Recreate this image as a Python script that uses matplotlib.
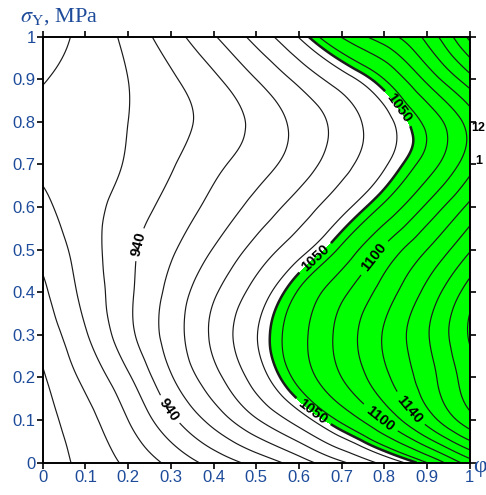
import numpy as np
import matplotlib
matplotlib.use("Agg")
import matplotlib.pyplot as plt
import matplotlib.tri as mtri

# grid
phi = [0.0, 0.1, 0.2, 0.3, 0.4, 0.5, 0.6, 0.7, 0.8, 0.9, 1.0]
sigma_y = [0.0, 0.1, 0.2, 0.3, 0.4, 0.5, 0.6, 0.7, 0.8, 0.9, 1.0]

# response values (rows: sigma_y, columns: phi)
stress = [
    [848, 866, 884, 905, 927, 947, 970, 997, 1026, 1060, 1110],
    [853, 873, 900, 935, 967, 998, 1029, 1064, 1102, 1148, 1192],
    [858, 885, 917, 958, 993, 1029, 1066, 1100, 1135, 1171, 1210],
    [867, 898, 934, 969, 1004, 1039, 1073, 1107, 1142, 1178, 1222],
    [876, 906, 936, 966, 997, 1028, 1062, 1095, 1129, 1166, 1210],
    [886, 910, 935, 957, 981, 1007, 1033, 1064, 1104, 1140, 1178],
    [896, 912, 929, 947, 966, 987, 1009, 1034, 1064, 1104, 1145],
    [903, 910, 922, 938, 955, 971, 990, 1013, 1038, 1069, 1112],
    [905, 910, 920, 933, 947, 965, 986, 1008, 1034, 1065, 1108],
    [899, 908, 920, 937, 956, 980, 1005, 1031, 1060, 1105, 1152],
    [893, 905, 926, 951, 978, 1007, 1041, 1081, 1111, 1146, 1205],
]

levels = [860, 880, 900, 920, 940, 960, 980, 1000, 1020, 1040, 1050,
          1060, 1080, 1100, 1120, 1140, 1160, 1180, 1200, 1220]
threshold = 1050
label_levels = [940, 1050, 1100, 1140]
label_spots = [(0.235, 0.51), (0.29, 0.12), (0.83, 0.83), (0.63, 0.49),
               (0.63, 0.115), (0.79, 0.47), (0.795, 0.11), (0.865, 0.13)]
# visible parts of contour labels that spill past the right frame
edge_labels = ["12", "1"]

P, S = np.meshgrid(phi, sigma_y)
Z = np.array(stress, dtype=float)
tri = mtri.Triangulation(P.ravel(), S.ravel())
refiner = mtri.UniformTriRefiner(tri)
tri_f, z_f = refiner.refine_field(Z.ravel(), subdiv=4)

fig = plt.figure(figsize=(4.86, 4.95), dpi=100)
ax = fig.add_axes([0.0879, 0.0653, 0.8786, 0.8606])

ax.tricontourf(tri_f, z_f, levels=[threshold, 2000], colors=["#00ff00"])

plain = [lv for lv in levels if lv not in label_levels]
ax.tricontour(tri_f, z_f, levels=plain, colors="#1a1a1a", linewidths=0.85)
widths = [1.8 if lv == threshold else 0.85 for lv in label_levels]
cs = ax.tricontour(tri_f, z_f, levels=label_levels, colors="#1a1a1a",
                   linewidths=widths)
lbls = ax.clabel(cs, manual=label_spots, fmt="%d", fontsize=10.5, inline=True,
                 inline_spacing=3, colors="black")
for t in lbls:
    t.set_fontweight("bold")
    t.set_family("Liberation Sans")

ax.set_xlim(0, 1)
ax.set_ylim(0, 1)
ticks = np.arange(0, 1.01, 0.1)
ax.set_xticks(ticks)
ax.set_yticks(ticks)
ax.set_xticklabels(["%g" % t for t in ticks])
ax.set_yticklabels(["%g" % t for t in ticks])
ax.tick_params(direction="out", length=4, width=1.2, top=True, right=True,
               labelsize=12, labelcolor="#1d4b9a", pad=1)
for sp in ax.spines.values():
    sp.set_linewidth(1.4)
for lab in ax.get_xticklabels() + ax.get_yticklabels():
    lab.set_family("Liberation Sans")

# partial contour labels past the right frame
fig.text(471 / 486, 1 - 128 / 495, edge_labels[0], fontsize=9,
         fontweight="bold", family="Liberation Sans", ha="left", va="center")
fig.text(475 / 486, 1 - 161 / 495, edge_labels[1], fontsize=9,
         fontweight="bold", family="Liberation Sans", ha="left", va="center")

plt.rcParams["mathtext.fontset"] = "stix"
fig.text(0.042, 0.966, r"$\sigma_{\rm Y}$, MPa", fontsize=16,
         family="Liberation Serif", color="#1d4b9a", ha="left", va="center")
fig.text(0.988, 0.058, "φ", fontsize=17, family="Liberation Serif",
         color="#1d4b9a", ha="center", va="center")

fig.savefig("out.png", dpi=100)
